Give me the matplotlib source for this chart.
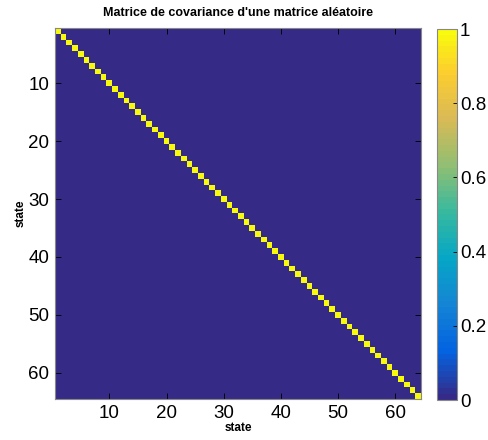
import numpy as np
import matplotlib
matplotlib.use("Agg")
from matplotlib import pyplot as plt
from matplotlib.colors import LinearSegmentedColormap

plt.rcParams['font.family'] = ['Liberation Sans', 'DejaVu Sans']

# data: covariance of the states (identity)
n_states = 64
cov = np.eye(n_states)
ticks = [10, 20, 30, 40, 50, 60]
cbar_ticks = [0, 0.2, 0.4, 0.6, 0.8, 1]

# parula-like colormap (anchor colours)
parula_pts = [
    (0.2081, 0.1663, 0.5292),
    (0.0117, 0.3875, 0.8820),
    (0.0793, 0.5200, 0.8312),
    (0.0228, 0.6535, 0.7768),
    (0.2178, 0.7250, 0.6193),
    (0.5709, 0.7485, 0.4494),
    (0.8507, 0.7299, 0.3360),
    (0.9880, 0.8066, 0.1794),
    (0.9763, 0.9831, 0.0538),
]
pos = [0, 8/63, 16/63, 24/63, 32/63, 40/63, 48/63, 56/63, 1]
parula = LinearSegmentedColormap.from_list("parula", list(zip(pos, parula_pts)), N=64)

fig = plt.figure(figsize=(4.88, 4.4), dpi=100)
ax = fig.add_axes([55/488, 1-399/440, 366/488, 371/440])
cax = fig.add_axes([437/488, 1-400/440, 20/488, 371/440])

im = ax.imshow(cov, cmap=parula, vmin=0, vmax=1, aspect='auto',
               interpolation='nearest',
               extent=(0.5, n_states+0.5, n_states+0.5, 0.5))
ax.set_xticks(ticks)
ax.set_yticks(ticks)
ax.tick_params(direction='in', top=True, right=True, labelsize=13.5, length=4,
               width=0.6, pad=4)
for s in ax.spines.values():
    s.set_color('#888888')
ax.set_title("Matrice de covariance d'une matrice aléatoire", fontsize=9,
             fontweight='bold', pad=9)
ax.set_xlabel("state", fontsize=8.5, fontweight='bold', labelpad=0)
ax.set_ylabel("state", fontsize=8.5, fontweight='bold', labelpad=1)

cb = fig.colorbar(im, cax=cax, ticks=cbar_ticks)
cb.ax.tick_params(direction='in', labelsize=13.5, length=3, width=0.6, pad=2)
cb.ax.set_yticklabels(['0', '0.2', '0.4', '0.6', '0.8', '1'])
cb.outline.set_edgecolor('#888888')

fig.savefig("out.png", dpi=100)
